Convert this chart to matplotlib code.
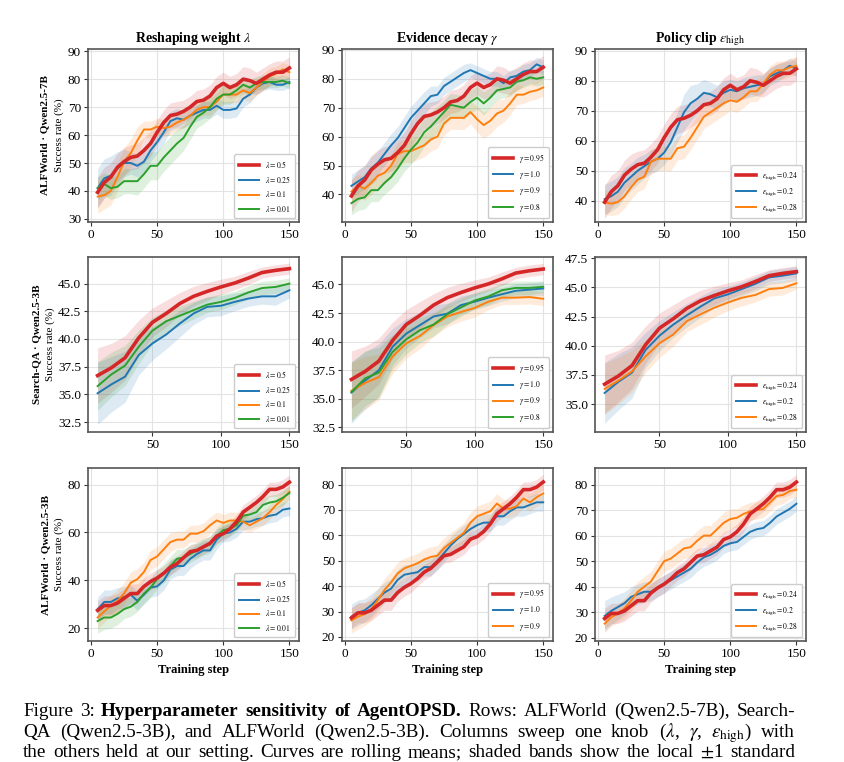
import matplotlib.pyplot as plt
import matplotlib as mpl
import numpy as np

mpl.rcParams['font.family'] = ['Liberation Serif', 'DejaVu Serif']
mpl.rcParams['mathtext.fontset'] = 'stix'
mpl.rcParams['font.size'] = 9

RED, BLUE, ORANGE, GREEN = '#d62728', '#1f77b4', '#ff7f0e', '#2ca02c'

steps_alf = list(range(5, 151, 5))
steps_sqa = list(range(10, 151, 10))

# ---- ALFWorld, Qwen2.5-7B (top row) ----
alf7_base = [39.5, 43, 45, 48.5, 50.5, 52, 52.5, 54.5, 57, 61, 64.5, 67, 67.5, 68.5, 70,
             72, 72.5, 74, 77, 78.5, 77, 78, 80, 79.5, 78.5, 80, 81.5, 82.5, 82.5, 84]
alf7_base_sd = [5.5, 5.5, 5, 5, 5, 4.5, 4.5, 4.5, 4.5, 4.5, 4.5, 4.5, 4.5, 4, 4,
                4, 4, 4, 4, 4, 4, 4, 4.5, 4.5, 4, 4, 4, 4, 4, 4]
alf7_lam025 = [41, 44.5, 45.5, 48, 50, 50, 49, 50.5, 54.5, 57.5, 61, 65, 66, 65.5, 67,
               68, 69, 69, 70.5, 69, 69, 69.5, 73, 74.5, 77, 78.5, 79, 78, 78, 79]
alf7_lam025_sd = [7, 7, 7, 6, 5, 4, 4, 4, 4, 4, 4, 3.5, 3.5, 3, 3,
                  3, 3, 3, 3, 3, 3, 3, 3, 3, 2.5, 2.5, 2.5, 2, 2, 2]
alf7_lam01 = [38, 38.5, 40, 45, 50.5, 53.5, 58, 62, 62, 63, 62.5, 63, 64.5, 65.5, 67,
              69, 70, 70, 72, 74.5, 74.5, 74.5, 76, 75, 77, 79, 81, 82, 83.5, 82.5]
alf7_lam01_sd = [6, 5, 5, 5, 5, 5, 5, 3, 3, 3, 3, 3, 3, 3, 3,
                 3, 3, 3, 3, 3, 3, 3, 3, 3, 3, 3, 3, 2.5, 2.5, 2.5]
alf7_lam001 = [41, 42.5, 41, 41.5, 43.5, 43.5, 43.5, 46, 49, 49, 52, 54.5, 57, 59, 63,
               66.5, 68, 70, 73, 74.5, 74.5, 76, 78, 77, 78.5, 79, 79, 79, 79.5, 78.5]
alf7_lam001_sd = [4, 4, 4, 4, 4.5, 4.5, 5, 5, 5, 5, 5, 5, 5, 4.5, 4.5,
                  4, 4, 4, 4, 3.5, 3.5, 3, 3, 3, 2.5, 2.5, 2, 2, 2, 2]
alf7_gam10 = [43, 44.5, 46, 49, 51, 54, 57, 59.5, 63, 66.5, 69, 71.5, 74, 74.5, 77.5,
              79, 80.5, 82, 83, 82, 81, 80, 80, 78.5, 80.5, 81, 82.5, 83, 85, 84]
alf7_gam10_sd = [4, 4, 4, 4, 4, 4, 4, 4, 4, 4, 4, 4, 3.5, 3, 3,
                 3, 3, 3, 2.5, 2.5, 2.5, 2.5, 2.5, 2.5, 2.5, 2.5, 2.5, 2.5, 2.5, 2.5]
alf7_gam09 = [41, 43, 42, 44, 46.5, 47.5, 50, 54, 55, 55, 56, 57, 59, 60, 64.5,
              66.5, 66.5, 66.5, 68.5, 66, 64, 65.5, 68, 69, 71.5, 74.5, 74.5, 75.5, 76, 77]
alf7_gam09_sd = [4, 4, 4, 4, 4, 4, 4, 4, 4, 4, 4, 4, 4, 4, 4,
                 4, 4, 4, 4, 4.5, 4.5, 4.5, 4.5, 4, 4, 3.5, 3, 3, 3, 3]
alf7_gam08 = [37, 38.5, 39, 41.5, 41.5, 44, 46, 49, 52.5, 55.5, 58, 61.5, 63.5, 66, 68.5,
              71, 70.5, 70, 72, 73.5, 71.5, 73.5, 76, 76.5, 77, 79, 79.5, 80.5, 80, 80.5]
alf7_gam08_sd = [4, 4, 4, 4, 4, 4, 4, 4.5, 4.5, 5, 5, 5, 5, 4.5, 4,
                 4, 4, 4, 4, 4, 4, 3.5, 3.5, 3, 3, 3, 2.5, 2.5, 2.5, 2.5]
alf7_eps02 = [40.5, 41.5, 43, 46, 48, 50, 51.5, 53, 54, 56, 59.5, 64.5, 69.5, 72.5, 74,
              76, 75.5, 74.5, 76, 77, 76.5, 77.5, 78, 78.5, 79, 81.5, 82.5, 83.5, 85, 84]
alf7_eps02_sd = [5, 5, 5, 5, 4.5, 4.5, 4, 4, 4, 4, 4.5, 5, 6, 6, 5,
                 4.5, 4, 4, 4, 3.5, 3.5, 3.5, 3.5, 3.5, 3, 3, 3, 2.5, 2.5, 2.5]
alf7_eps028 = [39.5, 39, 39.5, 41.5, 44.5, 47, 48, 53, 54, 54, 54, 57.5, 58, 61, 64.5,
               68, 69.5, 71, 72.5, 73.5, 73, 74.5, 76.5, 76.5, 79, 82, 83.5, 83.5, 84.5, 85]
alf7_eps028_sd = [4, 4, 4, 4, 4, 4, 4, 4, 4, 4, 4, 4, 4, 4, 4,
                  4, 4, 4, 4, 3.5, 3.5, 3.5, 3.5, 3.5, 3, 3, 3, 3, 3, 3]

# ---- Search-QA, Qwen2.5-3B (middle row) ----
sqa_base = [36.7, 37.4, 38.3, 40.1, 41.5, 42.3, 43.2, 43.85, 44.3, 44.7, 45.05, 45.5, 46.0, 46.2, 46.35]
sqa_base_sd = [2.5, 2.2, 2.0, 1.6, 1.3, 1.2, 1.0, 0.9, 0.8, 0.7, 0.6, 0.6, 0.5, 0.5, 0.5]
sqa_lam025 = [35.1, 35.9, 36.6, 38.55, 39.6, 40.4, 41.4, 42.3, 42.9, 43.0, 43.35, 43.65, 43.85, 43.85, 44.4]
sqa_lam025_sd = [2.8, 2.5, 2.3, 1.8, 1.5, 1.3, 1.2, 1.0, 0.9, 0.9, 0.8, 0.7, 0.7, 0.8, 0.7]
sqa_lam01 = []
sqa_lam01_sd = []
sqa_lam001 = [35.75, 36.8, 37.6, 39.3, 40.75, 41.6, 42.1, 42.6, 43.1, 43.35, 43.7, 44.2, 44.6, 44.7, 45.0]
sqa_lam001_sd = [2.2, 2.0, 1.8, 1.5, 1.2, 1.0, 0.9, 0.8, 0.7, 0.7, 0.6, 0.6, 0.6, 0.6, 0.5]
sqa_gam10 = [35.55, 36.6, 37.5, 39.55, 40.7, 41.45, 42.2, 42.45, 43.2, 43.5, 43.85, 44.15, 44.45, 44.55, 44.65]
sqa_gam10_sd = [2.7, 2.5, 2.3, 1.6, 1.3, 1.1, 1.0, 0.9, 0.8, 0.7, 0.7, 0.6, 0.6, 0.6, 0.6]
sqa_gam09 = [35.7, 36.4, 36.9, 38.7, 39.85, 40.5, 41.45, 42.2, 42.6, 42.95, 43.5, 43.85, 43.85, 43.9, 43.75]
sqa_gam09_sd = [2.5, 2.3, 2.0, 1.5, 1.3, 1.1, 1.0, 0.9, 0.8, 0.8, 0.7, 0.6, 0.6, 0.6, 0.6]
sqa_gam08 = [35.6, 36.8, 37.3, 39.1, 40.2, 41.0, 41.5, 42.4, 43.0, 43.6, 43.95, 44.5, 44.7, 44.7, 44.8]
sqa_gam08_sd = [2.6, 2.4, 2.2, 1.5, 1.3, 1.1, 1.0, 0.9, 0.8, 0.7, 0.7, 0.6, 0.6, 0.6, 0.5]
sqa_eps02 = [35.95, 36.9, 37.7, 39.65, 40.85, 41.8, 42.6, 43.35, 44.05, 44.4, 44.85, 45.3, 45.85, 46.0, 46.2]
sqa_eps02_sd = [2.6, 2.4, 2.2, 1.5, 1.3, 1.1, 1.0, 0.9, 0.8, 0.7, 0.6, 0.6, 0.6, 0.6, 0.6]
sqa_eps028 = [36.3, 37.0, 37.8, 39.1, 40.2, 40.95, 42.1, 42.7, 43.25, 43.7, 44.1, 44.35, 44.85, 44.95, 45.35]
sqa_eps028_sd = [2.2, 2.0, 1.8, 1.4, 1.2, 1.0, 0.9, 0.9, 0.8, 0.7, 0.7, 0.6, 0.6, 0.6, 0.5]

# ---- ALFWorld, Qwen2.5-3B (bottom row) ----
alf3_base = [27.5, 29.5, 29.5, 30.5, 32.5, 34.5, 34.5, 37.5, 39.5, 41, 43, 45.5, 47, 49.5, 52,
             52.5, 54, 55.5, 58.5, 59.5, 61.5, 64.5, 68.5, 70.5, 72.5, 75, 78, 78, 79, 81]
alf3_base_sd = [4, 4, 4, 4, 4, 4, 4, 3.5, 3.5, 3.5, 3, 3, 3, 3, 3,
                3, 3, 3, 3, 3, 3, 3, 3, 3, 3, 3, 3, 3, 3, 3]
alf3_lam025 = [28, 31, 31, 32.5, 33, 34, 31.5, 34, 37, 37.5, 40, 44.5, 46, 46, 49,
               51, 52.5, 52.5, 57, 59.5, 60, 61.5, 64.5, 64.5, 65.5, 66, 67, 67.5, 69.5, 70]
alf3_lam025_sd = [5, 5, 5, 4.5, 4.5, 4, 4, 4, 4, 4, 4, 4, 4, 4, 4,
                  4, 4, 4, 4, 3.5, 3.5, 3.5, 3.5, 3, 3, 3, 3, 3, 3, 3]
alf3_lam01 = [24.5, 27, 29.5, 31.5, 34.5, 39, 40.5, 43.5, 48.5, 50, 53, 56, 57, 57, 59.5,
              59.5, 60.5, 63, 65, 64, 65, 65, 64.5, 63, 64.5, 66, 68.5, 71.5, 74, 77]
alf3_lam01_sd = [4.5, 4.5, 4.5, 4.5, 4.5, 4.5, 4.5, 4, 4, 4, 4, 4, 3.5, 3.5, 3.5,
                 3.5, 3.5, 3.5, 3.5, 3.5, 3.5, 3.5, 3.5, 3, 3, 3, 3, 3, 3, 3]
alf3_lam001 = [23, 24.5, 24.5, 26, 28, 29, 31, 34.5, 37, 40.5, 43, 46, 49, 49.5, 51,
               52.5, 54, 55, 58.5, 61, 61.5, 63, 67, 67.5, 68.5, 71.5, 72.5, 73, 74.5, 76.5]
alf3_lam001_sd = [5, 5, 4.5, 4.5, 4, 4, 4, 4, 4, 4, 4, 4, 4, 3.5, 3.5,
                  3.5, 3.5, 3.5, 3.5, 3.5, 3, 3, 3, 3, 3, 3, 3, 3, 3, 3]
alf3_gam10 = [28, 29.5, 30.5, 32.5, 35, 37.5, 39, 42.5, 44.5, 45, 45.5, 47.5, 47.5, 50, 53,
              56, 58.5, 60.5, 62.5, 64, 65, 65, 67.5, 67.5, 69.5, 71, 71, 72, 73, 73]
alf3_gam10_sd = [5, 5, 4.5, 4.5, 4, 4, 4, 4, 4, 3.5, 3.5, 3.5, 3.5, 3.5, 3.5,
                 3.5, 3.5, 3.5, 3.5, 3.5, 3.5, 3.5, 3.5, 3.5, 3.5, 3.5, 3.5, 3.5, 3.5, 3.5]
alf3_gam09 = [26.5, 28, 29, 31, 34.5, 38.5, 41.5, 45, 47, 48, 49, 50.5, 51.5, 52, 55,
              57, 59, 61, 65, 67.5, 68.5, 69.5, 72.5, 70.5, 70.5, 71.5, 74.5, 73, 75, 76.5]
alf3_gam09_sd = [5, 5, 4.5, 4.5, 4.5, 4.5, 4.5, 4.5, 4, 4, 4, 4, 4, 4, 4,
                 4, 4, 4, 4, 4, 4, 4, 4, 3.5, 3.5, 3.5, 3.5, 3.5, 3.5, 3.5]
alf3_eps02 = [28.5, 30.5, 32, 33.5, 36, 37, 38, 38, 39.5, 41, 42.5, 44, 45.5, 47, 49.5,
              51.5, 52.5, 54, 56, 57, 57.5, 59.5, 61.5, 62.5, 63, 65, 67.5, 69, 70.5, 72.5]
alf3_eps02_sd = [6, 5.5, 5, 4.5, 4, 4, 4, 3.5, 3.5, 3.5, 3.5, 3.5, 3.5, 3.5, 3.5,
                 3.5, 3.5, 3.5, 3, 3, 3, 3, 3, 3, 3, 3, 3, 3, 3, 3]
alf3_eps028 = [25.5, 28, 29.5, 31.5, 34.5, 38, 40, 42, 46, 50, 51, 53, 55, 55.5, 58,
               60, 60, 62.5, 65, 66.5, 67, 68.5, 69.5, 70, 70.5, 73, 75.5, 76, 77.5, 78]
alf3_eps028_sd = [3.5, 3.5, 3.5, 4, 4, 4, 4, 4, 4, 4, 4, 4, 4, 4, 4,
                  4, 4, 4, 4, 4, 3.5, 3.5, 3.5, 3.5, 3.5, 3.5, 3.5, 3.5, 3, 3]

col_titles = [r'Reshaping weight $\lambda$', r'Evidence decay $\gamma$',
              r'Policy clip $\varepsilon_{\mathrm{high}}$']
row_labels = ['ALFWorld · Qwen2.5-7B', 'Search-QA · Qwen2.5-3B', 'ALFWorld · Qwen2.5-3B']

lam_labels = [r'$\lambda = 0.5$', r'$\lambda = 0.25$', r'$\lambda = 0.1$', r'$\lambda = 0.01$']
gam_labels = [r'$\gamma = 0.95$', r'$\gamma = 1.0$', r'$\gamma = 0.9$', r'$\gamma = 0.8$']
eps_labels = [r'$\varepsilon_{\mathrm{high}} = 0.24$', r'$\varepsilon_{\mathrm{high}} = 0.2$',
              r'$\varepsilon_{\mathrm{high}} = 0.28$']

yticks = [[[30, 40, 50, 60, 70, 80, 90], [40, 50, 60, 70, 80, 90], [40, 50, 60, 70, 80, 90]],
          [[32.5, 35.0, 37.5, 40.0, 42.5, 45.0], [32.5, 35.0, 37.5, 40.0, 42.5, 45.0],
           [35.0, 37.5, 40.0, 42.5, 45.0, 47.5]],
          [[20, 40, 60, 80], [20, 30, 40, 50, 60, 70, 80], [20, 30, 40, 50, 60, 70, 80]]]
xticks = [[0, 50, 100, 150], [50, 100, 150], [0, 50, 100, 150]]

caption_lines = [
    [('Figure', 0), ('3:', 0), ('Hyperparameter', 1), ('sensitivity', 1), ('of', 1), ('AgentOPSD.', 1),
     ('Rows:', 0), ('ALFWorld', 0), ('(Qwen2.5-7B),', 0), ('Search-', 0)],
    [('QA', 0), ('(Qwen2.5-3B),', 0), ('and', 0), ('ALFWorld', 0), ('(Qwen2.5-3B).', 0), ('Columns', 0),
     ('sweep', 0), ('one', 0), ('knob', 0), (r'($\lambda$,', 0), (r'$\gamma$,', 0),
     (r'$\epsilon_{\mathrm{high}}$)', 0), ('with', 0)],
    [('the', 0), ('others', 0), ('held', 0), ('at', 0), ('our', 0), ('setting.', 0), ('Curves', 0),
     ('are', 0), ('rolling', 0), ('means;', 0), ('shaded', 0), ('bands', 0), ('show', 0), ('the', 0),
     ('local', 0), (r'$\pm$1', 0), ('standard', 0)],
]

rows = [
    (steps_alf, [
        [(alf7_base, alf7_base_sd), (alf7_lam025, alf7_lam025_sd), (alf7_lam01, alf7_lam01_sd), (alf7_lam001, alf7_lam001_sd)],
        [(alf7_base, alf7_base_sd), (alf7_gam10, alf7_gam10_sd), (alf7_gam09, alf7_gam09_sd), (alf7_gam08, alf7_gam08_sd)],
        [(alf7_base, alf7_base_sd), (alf7_eps02, alf7_eps02_sd), (alf7_eps028, alf7_eps028_sd)],
    ]),
    (steps_sqa, [
        [(sqa_base, sqa_base_sd), (sqa_lam025, sqa_lam025_sd), (sqa_lam01, sqa_lam01_sd), (sqa_lam001, sqa_lam001_sd)],
        [(sqa_base, sqa_base_sd), (sqa_gam10, sqa_gam10_sd), (sqa_gam09, sqa_gam09_sd), (sqa_gam08, sqa_gam08_sd)],
        [(sqa_base, sqa_base_sd), (sqa_eps02, sqa_eps02_sd), (sqa_eps028, sqa_eps028_sd)],
    ]),
    (steps_alf, [
        [(alf3_base, alf3_base_sd), (alf3_lam025, alf3_lam025_sd), (alf3_lam01, alf3_lam01_sd), (alf3_lam001, alf3_lam001_sd)],
        [(alf3_base, alf3_base_sd), (alf3_gam10, alf3_gam10_sd), (alf3_gam09, alf3_gam09_sd)],
        [(alf3_base, alf3_base_sd), (alf3_eps02, alf3_eps02_sd), (alf3_eps028, alf3_eps028_sd)],
    ]),
]
col_legends = [lam_labels, gam_labels, eps_labels]
colors = [RED, BLUE, ORANGE, GREEN]

ylims = [[(28.9, 90.8), (30.5, 90.3), (32.9, 90.6)],
         [(31.6, 47.4), (32.1, 47.4), (32.6, 47.6)],
         [(14.7, 86.9), (18.4, 86.5), (18.7, 86.5)]]
xlims = [(-2.25, 157.25), (3, 157), (-2.25, 157.25)]
ylabel_x = [(-0.205, -0.137), (-0.243, -0.178), (-0.2, -0.135)]

W, H = 844, 762
fig = plt.figure(figsize=(W / 100, H / 100), dpi=100)
lefts = [0.1043, 0.405, 0.705]
bottoms = [0.7087, 0.433, 0.1588]
heights = [0.227, 0.2297, 0.227]

for r, (steps, panels) in enumerate(rows):
    for c, series in enumerate(panels):
        ax = fig.add_axes([lefts[c], bottoms[r], 0.250, heights[r]])
        labels = col_legends[c]
        for k, (vals, sd) in enumerate(series):
            x = steps[:len(vals)]
            lw = 2.6 if k == 0 else 1.4
            if len(vals):
                v = np.array(vals)
                s = np.array(sd)
                ax.fill_between(x, v - s, v + s, color=colors[k], alpha=0.15, lw=0)
            ax.plot(x, vals, color=colors[k], lw=lw, label=labels[k], zorder=3 if k == 0 else 2)
        ax.set_xticks(xticks[r])
        ax.set_yticks(yticks[r][c])
        if r == 1:
            ax.set_yticklabels([f'{v:.1f}' for v in yticks[r][c]])
        ax.set_xlim(*xlims[r])
        ax.set_ylim(*ylims[r][c])
        ax.grid(True, color='#e3e3e3', lw=0.8)
        ax.set_axisbelow(True)
        for sp in ax.spines.values():
            sp.set_color('#555555')
            sp.set_linewidth(1.2)
        ax.tick_params(labelsize=9.5, length=3, color='#333333', pad=2)
        leg = ax.legend(loc='lower right', fontsize=5.5, handlelength=2.6,
                        borderpad=0.6, labelspacing=0.55, framealpha=1)
        leg.get_frame().set_edgecolor('#cccccc')
        if r == 0:
            ax.set_title(col_titles[c], fontsize=10, fontweight='bold', pad=5)
        if r == 2:
            ax.set_xlabel('Training step', fontsize=9, fontweight='bold', labelpad=3)
        if c == 0:
            ax.text(ylabel_x[r][0], 0.5, row_labels[r], transform=ax.transAxes, rotation=90,
                    ha='center', va='center', fontsize=8, fontweight='bold')
            ax.text(ylabel_x[r][1], 0.5, 'Success rate (%)', transform=ax.transAxes, rotation=90,
                    ha='center', va='center', fontsize=8)

# caption, justified; the last line runs into the bottom edge as in the source page
cap_size = 13.8
cap_x0, cap_x1 = 23, 795
cap_baselines = [716, 737, 757]
renderer = fig.canvas.get_renderer()
for words, yb in zip(caption_lines, cap_baselines):
    texts = [fig.text(0, 1 - yb / H, w, fontsize=cap_size, va='baseline',
                      fontweight='bold' if b else 'normal') for w, b in words]
    widths = [t.get_window_extent(renderer).width for t in texts]
    gap = (cap_x1 - cap_x0 - sum(widths)) / (len(texts) - 1)
    xpos = cap_x0
    for t, w in zip(texts, widths):
        t.set_x(xpos / W)
        xpos += w + gap

fig.savefig('out.png', dpi=100)
